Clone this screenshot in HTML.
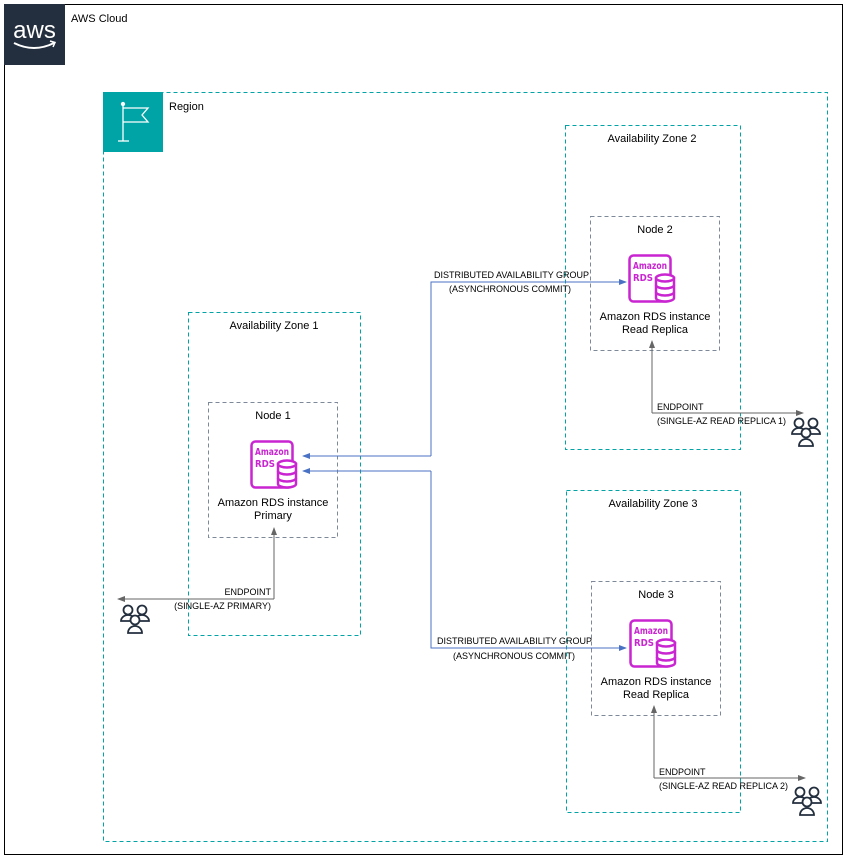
<!DOCTYPE html>
<html><head><meta charset="utf-8"><style>
html,body{margin:0;padding:0;background:#fff;}
svg{display:block;font-family:"Liberation Sans",Arial,sans-serif;}
</style></head><body>
<svg width="847" height="860" viewBox="0 0 847 860" xmlns="http://www.w3.org/2000/svg">
<defs>
<marker id="ab" markerWidth="8" markerHeight="8" refX="7" refY="4" orient="auto" markerUnits="userSpaceOnUse"><path d="M0,1 L8,4 L0,7 Z" fill="#4a72c4"/></marker>
<marker id="ag" markerWidth="8" markerHeight="8" refX="7" refY="4" orient="auto" markerUnits="userSpaceOnUse"><path d="M0,1 L8,4 L0,7 Z" fill="#666"/></marker>
<g id="rds">
<rect x="1.5" y="1.5" width="41" height="46" rx="4" fill="#fff" stroke="#c925d1" stroke-width="2.5"/>
<text x="5" y="15" font-size="10" font-weight="bold" fill="#c925d1" textLength="34" lengthAdjust="spacingAndGlyphs" font-family="DejaVu Sans Condensed,Liberation Sans,sans-serif">Amazon</text>
<text x="5" y="27" font-size="10" font-weight="bold" fill="#c925d1" textLength="20" lengthAdjust="spacingAndGlyphs" font-family="DejaVu Sans Condensed,Liberation Sans,sans-serif">RDS</text>
<g fill="#fff" stroke="#c925d1" stroke-width="2.5">
<path d="M28,24 L28,44 A9,3.5 0 0 0 46,44 L46,24 Z"/>
<ellipse cx="37" cy="24" rx="9" ry="3.5"/>
<path d="M28,31 A9,3.5 0 0 0 46,31 M28,38 A9,3.5 0 0 0 46,38" fill="none"/>
</g>
</g>
<g id="users" fill="none" stroke="#232f3e" stroke-width="1.8">
<circle cx="8" cy="6" r="4.5"/><path d="M1,17 A7,6 0 0 1 15,17 Z"/>
<circle cx="22" cy="6" r="4.5"/><path d="M15,17 A7,6 0 0 1 29,17 Z"/>
<circle cx="15" cy="16" r="4.5" fill="#fff"/><path d="M8,29 A7,7 0 0 1 22,29 Z" fill="#fff"/>
</g>
</defs>
<rect x="4.5" y="4.5" width="838" height="850" fill="none" stroke="#000" stroke-width="1"/>
<rect x="4" y="4" width="61" height="61" fill="#232f3e"/>
<text x="34.5" y="38" font-size="24" fill="#fff" text-anchor="middle" font-family="Liberation Sans,sans-serif">aws</text>
<path d="M14,43 Q34,53 54,43" fill="none" stroke="#fff" stroke-width="2"/>
<path d="M50,41 L55,42.5 L53,47" fill="none" stroke="#fff" stroke-width="1.5"/>
<text x="71" y="22" font-size="11" fill="#000">AWS Cloud</text>

<rect x="103.5" y="92.5" width="724" height="749" fill="none" stroke="#00a4a6" stroke-dasharray="4,3"/>
<rect x="103" y="92" width="60" height="60" fill="#00a4a6"/>
<g stroke="#fff" stroke-width="1.3" fill="none">
<circle cx="123" cy="104" r="1.5" fill="#fff"/>
<line x1="123" y1="105" x2="123" y2="141"/><line x1="118" y1="141" x2="129" y2="141"/>
<path d="M123,108 L148,108 L142,115 L148,122 L123,122"/>
</g>
<text x="169" y="110" font-size="11" fill="#000">Region</text>

<g fill="none" stroke="#00a4a6" stroke-dasharray="4,3">
<rect x="188.5" y="312.5" width="172" height="323"/>
<rect x="565.5" y="125.5" width="175" height="324"/>
<rect x="566.5" y="490.5" width="174" height="322"/>
</g>
<g font-size="11" fill="#000" text-anchor="middle">
<text x="274" y="329">Availability Zone 1</text>
<text x="652" y="142">Availability Zone 2</text>
<text x="653" y="507">Availability Zone 3</text>
</g>
<g fill="none" stroke="#7d8998" stroke-dasharray="4,3">
<rect x="208.5" y="402.5" width="129" height="135"/>
<rect x="590.5" y="216.5" width="129" height="134"/>
<rect x="591.5" y="581.5" width="129" height="134"/>
</g>
<g font-size="11" fill="#000" text-anchor="middle">
<text x="273" y="419">Node 1</text>
<text x="273" y="506">Amazon RDS instance</text>
<text x="273" y="519">Primary</text>
<text x="655" y="233">Node 2</text>
<text x="655" y="320">Amazon RDS instance</text>
<text x="655" y="333">Read Replica</text>
<text x="656" y="598">Node 3</text>
<text x="656" y="685">Amazon RDS instance</text>
<text x="656" y="698">Read Replica</text>
</g>
<use href="#rds" x="250" y="440"/>
<use href="#rds" x="628" y="254"/>
<use href="#rds" x="629" y="619"/>

<g fill="none" stroke="#4a72c4" stroke-width="1">
<path d="M431,456 L431,282 L626,282" marker-end="url(#ab)"/>
<path d="M431,456 L303,456" marker-end="url(#ab)"/>
<path d="M431,471 L431,648 L626,648" marker-end="url(#ab)"/>
<path d="M431,471 L303,471" marker-end="url(#ab)"/>
</g>
<g font-size="9" fill="#000">
<text x="434" y="278">DISTRIBUTED AVAILABILITY GROUP</text>
<text x="449" y="292">(ASYNCHRONOUS COMMIT)</text>
<text x="437" y="644">DISTRIBUTED AVAILABILITY GROUP</text>
<text x="453" y="659">(ASYNCHRONOUS COMMIT)</text>
</g>

<g fill="none" stroke="#666" stroke-width="1">
<path d="M274,599 L274,528" marker-end="url(#ag)"/>
<path d="M274,599 L118,599" marker-end="url(#ag)"/>
<path d="M652,413 L652,341" marker-end="url(#ag)"/>
<path d="M652,413 L803,413" marker-end="url(#ag)"/>
<path d="M654,778 L654,706" marker-end="url(#ag)"/>
<path d="M654,778 L805,778" marker-end="url(#ag)"/>
</g>
<g font-size="9" fill="#000">
<text x="271" y="595" text-anchor="end">ENDPOINT</text>
<text x="271" y="609" text-anchor="end">(SINGLE-AZ PRIMARY)</text>
<text x="657" y="410">ENDPOINT</text>
<text x="657" y="424">(SINGLE-AZ READ REPLICA 1)</text>
<text x="659" y="775">ENDPOINT</text>
<text x="659" y="789">(SINGLE-AZ READ REPLICA 2)</text>
</g>
<use href="#users" x="120" y="604"/>
<use href="#users" x="791" y="417"/>
<use href="#users" x="792" y="786"/>
</svg>
</body></html>
